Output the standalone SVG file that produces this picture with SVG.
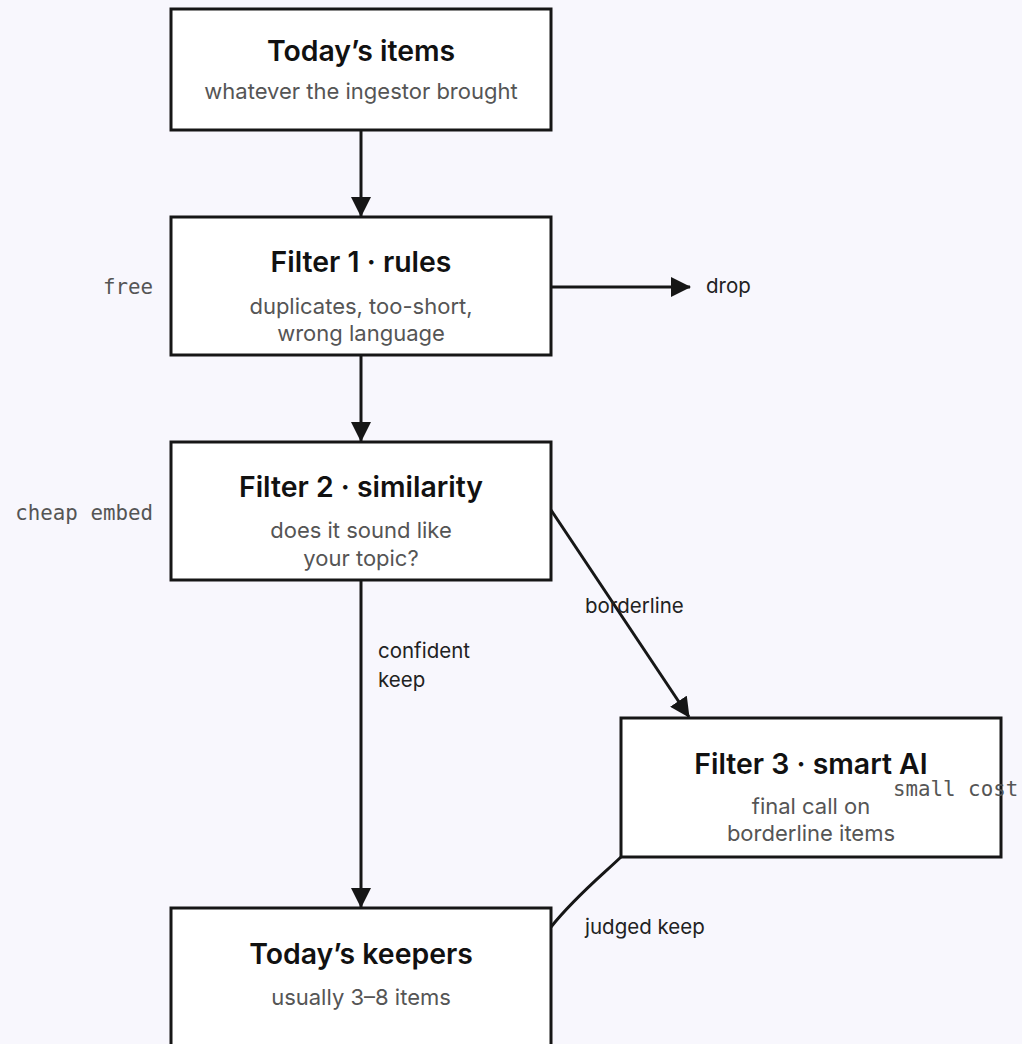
<svg xmlns="http://www.w3.org/2000/svg" width="1022" height="1044" viewBox="0 0 1022 1044">
<style>
.bg{fill:#f8f7fd}
.box{fill:#ffffff;stroke:#161616;stroke-width:3}
.t{font-family:Inter,"Liberation Sans",sans-serif;font-size:28.4px;font-weight:600;fill:#111111;text-anchor:middle}
.s{font-family:Inter,"Liberation Sans",sans-serif;font-size:22px;fill:#555555;text-anchor:middle}
.m{font-family:"DejaVu Sans Mono","Liberation Mono",monospace;font-size:20.8px;fill:#555555}
.l{font-family:Inter,"Liberation Sans",sans-serif;font-size:20.5px;fill:#222222}
.e{fill:none;stroke:#161616;stroke-width:3}
</style>
<defs>
<marker id="ah" markerUnits="userSpaceOnUse" markerWidth="20" markerHeight="20" viewBox="0 0 20 20" refX="19" refY="10" orient="auto">
<path d="M0,0 L20,10 L0,20 Z" fill="#161616"/>
</marker>
</defs>
<rect class="bg" x="0" y="0" width="1022" height="1044"/>
<g id="connectors">
<line class="e" x1="361" y1="130" x2="361" y2="216" marker-end="url(#ah)"/>
<line class="e" x1="551" y1="287" x2="690" y2="287" marker-end="url(#ah)"/>
<line class="e" x1="361" y1="355" x2="361" y2="441" marker-end="url(#ah)"/>
<line class="e" x1="551" y1="510" x2="689" y2="717" marker-end="url(#ah)"/>
<line class="e" x1="361" y1="580" x2="361" y2="907" marker-end="url(#ah)"/>
<path class="e" d="M621,857 C600,877 575,897 551,927"/>
<text class="l" x="706" y="293">drop</text>
<text class="l" x="585" y="613">borderline</text>
<text class="l" x="378" y="658">confident</text>
<text class="l" x="378" y="687">keep</text>
<text class="l" x="585" y="934">judged keep</text>
</g>
<g id="today-items">
<rect class="box" x="171" y="9" width="380" height="121"/>
<text class="t" x="361" y="61">Today’s items</text>
<text class="s" x="361" y="99">whatever the ingestor brought</text>
</g>
<g id="filter1">
<rect class="box" x="171" y="217" width="380" height="138"/>
<text class="t" x="361" y="272">Filter 1 · rules</text>
<text class="s" x="361" y="314">duplicates, too-short,</text>
<text class="s" x="361" y="341">wrong language</text>
<text class="m" x="153" y="294" text-anchor="end">free</text>
</g>
<g id="filter2">
<rect class="box" x="171" y="442" width="380" height="138"/>
<text class="t" x="361" y="497">Filter 2 · similarity</text>
<text class="s" x="361" y="538">does it sound like</text>
<text class="s" x="361" y="566">your topic?</text>
<text class="m" x="153" y="520" text-anchor="end">cheap embed</text>
</g>
<g id="filter3">
<rect class="box" x="621" y="718" width="380" height="139"/>
<text class="t" x="811" y="774">Filter 3 · smart AI</text>
<text class="s" x="811" y="814">final call on</text>
<text class="s" x="811" y="841">borderline items</text>
<text class="m" x="893" y="796">small cost</text>
</g>
<g id="keepers">
<rect class="box" x="171" y="908" width="380" height="160"/>
<text class="t" x="361" y="964">Today’s keepers</text>
<text class="s" x="361" y="1005">usually 3–8 items</text>
</g>
</svg>
